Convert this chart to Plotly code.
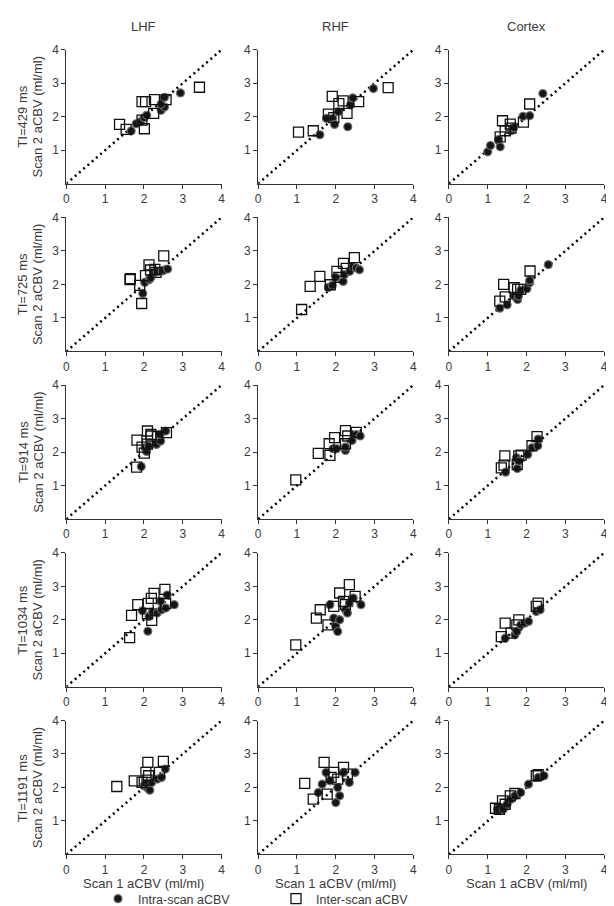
import plotly.graph_objects as go

# panel layout: 5 inversion times (rows) x 3 regions (columns)
REGIONS = ['LHF', 'RHF', 'Cortex']
TI_LABELS = ['TI=429 ms', 'TI=725 ms', 'TI=914 ms', 'TI=1034 ms', 'TI=1191 ms']
AXIS_TICKS_X = [0, 1, 2, 3, 4]
AXIS_TICKS_Y = [1, 2, 3, 4]

# ---- LHF ----
LHF_INTRA_X = [[1.67, 1.80, 1.91, 2.00, 2.07, 2.44, 2.53, 2.44, 2.53, 2.94],
               [1.97, 2.02, 2.13, 2.17, 2.28, 2.34, 2.47, 2.51, 2.61],
               [1.93, 2.03, 2.07, 2.12, 2.32, 2.43, 2.41, 2.56],
               [1.96, 2.10, 2.13, 2.22, 2.34, 2.43, 2.45, 2.56, 2.60, 2.78],
               [2.00, 2.05, 2.10, 2.15, 2.20, 2.35, 2.45, 2.55]]
LHF_INTRA_Y = [[1.57, 1.79, 1.85, 1.97, 2.04, 2.19, 2.29, 2.37, 2.58, 2.71],
               [1.73, 2.06, 2.14, 2.19, 2.36, 2.38, 2.40, 2.42, 2.46],
               [1.57, 2.13, 2.02, 2.18, 2.23, 2.33, 2.53, 2.63],
               [2.27, 1.66, 2.10, 2.23, 2.20, 2.55, 2.30, 2.35, 2.74, 2.45],
               [2.05, 2.12, 1.98, 1.92, 2.15, 2.25, 2.30, 2.55]]
LHF_INTER_X = [[1.37, 1.54, 2.01, 1.95, 1.95, 2.04, 2.27, 2.25, 2.57, 3.43],
               [1.64, 1.65, 1.89, 1.94, 2.04, 2.13, 2.17, 2.28, 2.31, 2.51],
               [1.81, 1.82, 1.95, 2.01, 2.09, 2.09, 2.18, 2.18, 2.35, 2.58],
               [1.63, 1.68, 1.84, 2.09, 2.11, 2.19, 2.26, 2.20, 2.56, 2.54],
               [1.30, 1.75, 1.95, 2.05, 2.10, 2.12, 2.40, 2.50, 2.08]]
LHF_INTER_Y = [[1.77, 1.62, 1.64, 1.90, 2.45, 2.45, 2.51, 2.10, 2.51, 2.88],
               [2.14, 2.17, 1.97, 1.43, 2.26, 2.58, 2.43, 2.45, 2.36, 2.85],
               [1.55, 2.36, 2.15, 1.97, 2.24, 2.63, 2.53, 2.48, 2.46, 2.58],
               [1.47, 2.13, 2.45, 2.18, 2.49, 2.64, 2.79, 1.98, 2.48, 2.91],
               [2.03, 2.20, 2.15, 2.45, 2.75, 2.35, 2.45, 2.78, 2.22]]

# ---- RHF ----
RHF_INTRA_X = [[1.59, 1.76, 1.92, 1.97, 2.06, 2.31, 2.38, 2.44, 2.97],
               [1.81, 1.91, 2.00, 2.19, 2.22, 2.36, 2.44, 2.53, 2.61],
               [1.93, 2.02, 2.25, 2.25, 2.42, 2.53, 2.63],
               [1.85, 1.95, 2.00, 2.05, 2.10, 2.25, 2.30, 2.35, 2.45, 2.65],
               [1.55, 1.65, 1.75, 1.85, 2.00, 2.05, 2.10, 2.20, 2.35, 2.50]]
RHF_INTRA_Y = [[1.46, 1.95, 1.95, 1.77, 2.15, 1.70, 2.35, 2.56, 2.84],
               [1.91, 1.97, 2.21, 2.09, 2.29, 2.39, 2.53, 2.49, 2.44],
               [2.10, 2.10, 2.05, 2.15, 2.35, 2.52, 2.48],
               [2.45, 2.05, 1.80, 1.65, 2.00, 2.30, 2.20, 2.50, 2.65, 2.45],
               [1.85, 2.10, 2.45, 2.20, 1.55, 2.00, 1.75, 2.45, 2.15, 2.45]]
RHF_INTER_X = [[1.04, 1.42, 1.91, 1.81, 1.95, 2.08, 2.19, 2.29, 2.59, 3.35],
               [1.12, 1.34, 1.59, 1.86, 2.03, 2.08, 2.20, 2.27, 2.48],
               [0.97, 1.55, 1.83, 1.85, 1.97, 2.25, 2.31, 2.25, 2.53],
               [0.97, 1.50, 1.60, 1.80, 1.95, 2.10, 2.20, 2.25, 2.35, 2.50],
               [1.20, 1.42, 1.70, 1.78, 1.88, 1.95, 2.05, 2.20, 2.30]]
RHF_INTER_Y = [[1.54, 1.58, 2.61, 2.08, 1.97, 2.39, 2.47, 2.10, 2.45, 2.87],
               [1.25, 1.94, 2.24, 1.99, 2.39, 2.21, 2.63, 2.48, 2.80],
               [1.17, 1.96, 2.25, 1.90, 2.43, 2.64, 2.48, 2.25, 2.59],
               [1.25, 2.05, 2.30, 1.85, 2.40, 2.80, 2.55, 2.45, 3.05, 2.70],
               [2.12, 1.65, 2.75, 1.80, 2.30, 2.45, 2.25, 2.60, 2.40]]

# ---- Cortex ----
CTX_INTRA_X = [[1.00, 1.07, 1.28, 1.32, 1.60, 1.63, 1.67, 1.91, 2.08, 2.42],
               [1.31, 1.50, 1.68, 1.77, 1.79, 1.85, 2.01, 2.08, 2.08, 2.56],
               [1.46, 1.74, 1.76, 1.80, 2.03, 2.14, 2.29, 2.30],
               [1.45, 1.70, 1.75, 1.85, 1.95, 2.05, 2.25, 2.35],
               [1.25, 1.40, 1.50, 1.60, 1.70, 1.85, 2.05, 2.30, 2.45]]
CTX_INTRA_Y = [[0.95, 1.14, 1.32, 1.10, 1.58, 1.65, 1.68, 2.01, 2.03, 2.69],
               [1.29, 1.39, 1.65, 1.55, 1.65, 1.82, 1.87, 2.05, 2.12, 2.59],
               [1.40, 1.83, 1.51, 1.73, 1.93, 2.13, 2.19, 2.39],
               [1.45, 1.55, 1.65, 1.85, 1.90, 1.95, 2.25, 2.30],
               [1.35, 1.35, 1.50, 1.65, 1.75, 1.85, 2.10, 2.30, 2.35]]
CTX_INTER_X = [[1.38, 1.58, 1.45, 1.32, 1.92, 2.08, 1.60],
               [1.31, 1.41, 1.45, 1.68, 1.77, 1.85, 2.09],
               [1.35, 1.42, 1.44, 1.76, 1.80, 1.86, 2.14, 2.27],
               [1.35, 1.45, 1.60, 1.75, 1.80, 2.25, 2.30],
               [1.20, 1.30, 1.38, 1.45, 1.58, 1.70, 2.25, 2.30]]
CTX_INTER_Y = [[1.88, 1.78, 1.58, 1.40, 1.84, 2.38, 1.66],
               [1.50, 2.00, 1.63, 1.90, 1.85, 1.85, 2.40],
               [1.53, 1.61, 1.89, 1.63, 1.89, 1.91, 2.19, 2.46],
               [1.50, 1.90, 1.60, 1.85, 2.00, 2.40, 2.50],
               [1.38, 1.35, 1.60, 1.50, 1.75, 1.82, 2.35, 2.38]]

INTRA_X = [LHF_INTRA_X, RHF_INTRA_X, CTX_INTRA_X]
INTRA_Y = [LHF_INTRA_Y, RHF_INTRA_Y, CTX_INTRA_Y]
INTER_X = [LHF_INTER_X, RHF_INTER_X, CTX_INTER_X]
INTER_Y = [LHF_INTER_Y, RHF_INTER_Y, CTX_INTER_Y]

W, H = 614, 906
COL_LEFT = [56, 250, 443]      # pixel position of x=0
COL_WIDTH = 157
ROW_TOP = [35, 204, 373, 542, 711]   # pixel position of y=4
ROW_HEIGHT = 135
FONT = 'Arial, Liberation Sans, sans-serif'
TXT = '#3a3a3a'

fig = go.Figure()
layout = dict(width=W, height=H, margin=dict(l=0, r=0, t=0, b=0),
              plot_bgcolor='white', paper_bgcolor='white',
              font=dict(family=FONT, size=12, color=TXT))
annotations = []

for r in range(5):
    for c in range(3):
        n = r * 3 + c + 1
        xa = 'x' if n == 1 else 'x%d' % n
        ya = 'y' if n == 1 else 'y%d' % n
        x0 = COL_LEFT[c] / W
        x1 = (COL_LEFT[c] + COL_WIDTH) / W
        y1 = 1 - ROW_TOP[r] / H
        y0 = 1 - (ROW_TOP[r] + ROW_HEIGHT) / H
        axis_style = dict(showline=True, linecolor='#333', linewidth=1, showgrid=False, zeroline=False,
                          ticks='outside', ticklen=4, tickcolor='#333', tickwidth=1,
                          tickfont=dict(size=12, color=TXT), range=[0, 4], fixedrange=True)
        layout['xaxis' if n == 1 else 'xaxis%d' % n] = dict(axis_style, domain=[x0, x1], anchor=ya,
                                                              tickvals=AXIS_TICKS_X)
        layout['yaxis' if n == 1 else 'yaxis%d' % n] = dict(axis_style, domain=[y0, y1], anchor=xa,
                                                              tickvals=AXIS_TICKS_Y)

        # identity line
        fig.add_trace(go.Scatter(x=[0, 4], y=[0, 4], mode='lines', xaxis=xa, yaxis=ya, showlegend=False,
                                 line=dict(color='black', width=2.5, dash='2px,3.6px'), hoverinfo='skip'))
        fig.add_trace(go.Scatter(x=INTRA_X[c][r], y=INTRA_Y[c][r], mode='markers', xaxis=xa, yaxis=ya,
                                 name='Intra-scan aCBV', showlegend=(n == 1),
                                 marker=dict(symbol='circle', size=8, color='#151515',
                                             line=dict(color='rgba(110,110,110,0.9)', width=1.2))))
        fig.add_trace(go.Scatter(x=INTER_X[c][r], y=INTER_Y[c][r], mode='markers', xaxis=xa, yaxis=ya,
                                 name='Inter-scan aCBV', showlegend=(n == 1),
                                 marker=dict(symbol='square-open', size=10, color='#111',
                                             line=dict(color='#111', width=1.3))))

        if r == 0:
            annotations.append(dict(text=REGIONS[c], x=(x0 + x1) / 2, y=1 - 12 / H, xref='paper', yref='paper',
                                    showarrow=False, font=dict(size=13, color=TXT),
                                    xanchor='center', yanchor='middle'))
        if r == 4:
            annotations.append(dict(text='Scan 1 aCBV (ml/ml)', x=(x0 + x1) / 2, y=1 - 875 / H,
                                    xref='paper', yref='paper', showarrow=False,
                                    font=dict(size=13, color=TXT), xanchor='center', yanchor='middle'))
        if c == 0:
            yc = (y0 + y1) / 2
            annotations.append(dict(text=TI_LABELS[r], x=12 / W, y=yc, xref='paper', yref='paper',
                                    textangle=-90, showarrow=False, font=dict(size=13, color=TXT),
                                    xanchor='center', yanchor='middle'))
            annotations.append(dict(text='Scan 2 aCBV (ml/ml)', x=27 / W, y=yc, xref='paper', yref='paper',
                                    textangle=-90, showarrow=False, font=dict(size=13, color=TXT),
                                    xanchor='center', yanchor='middle'))

layout['annotations'] = annotations
layout['legend'] = dict(orientation='h', x=88 / W, y=0, xanchor='left', yanchor='bottom',
                        entrywidth=133, entrywidthmode='pixels', font=dict(size=12.5, color=TXT),
                        bgcolor='rgba(0,0,0,0)', itemclick=False)
fig.update_layout(layout)
fig.write_html('out.html')
